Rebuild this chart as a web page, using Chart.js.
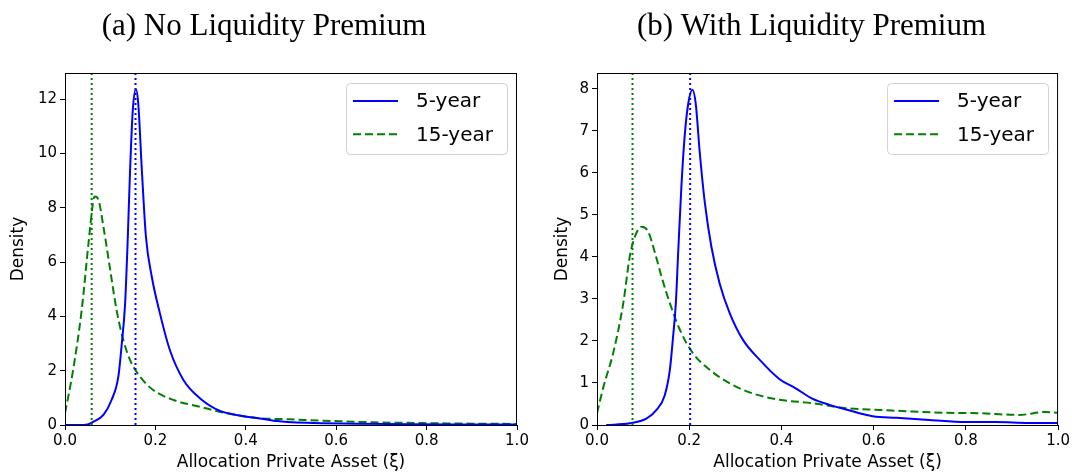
<!DOCTYPE html>
<html>
<head>
<meta charset="utf-8">
<script src="https://cdn.jsdelivr.net/npm/chart.js@4.4.0/dist/chart.umd.min.js"></script>
<style>
  body { margin: 0; background: #fff; }
  #wrap { position: relative; width: 1072px; height: 473px; }
  .panel { position: absolute; top: 0; width: 536px; height: 473px; }
</style>
</head>
<body>
<div id="wrap">
  <div class="panel" style="left:0"><canvas id="left" width="536" height="473"></canvas></div>
  <div class="panel" style="left:536px"><canvas id="right" width="536" height="473"></canvas></div>
</div>
<script>
// data
let seriesLabels = ['5-year', '15-year']
let xTicks = [0, 0.2, 0.4, 0.6, 0.8, 1.0]

// (a) no liquidity premium
let a5x = [0, 0.03, 0.05, 0.063, 0.085, 0.103, 0.118, 0.125, 0.133, 0.139, 0.144, 0.150, 0.157, 0.162, 0.170, 0.179, 0.192, 0.210, 0.232, 0.262, 0.299, 0.343, 0.387, 0.431, 0.461, 0.535, 0.645, 0.76, 0.88, 1.0]
let a5y = [0, 0, 0.02, 0.12, 0.37, 0.92, 1.78, 2.88, 4.48, 6.94, 9.39, 11.6, 12.36, 11.85, 9.39, 6.94, 5.46, 4.11, 2.76, 1.66, 0.98, 0.52, 0.35, 0.24, 0.16, 0.08, 0.05, 0.03, 0.02, 0.02]
let a15x = [0, 0.018, 0.037, 0.052, 0.063, 0.066, 0.074, 0.085, 0.100, 0.114, 0.129, 0.144, 0.166, 0.195, 0.240, 0.299, 0.358, 0.424, 0.498, 0.571, 0.682, 0.793, 0.9, 1.0]
let a15y = [0.43, 2.03, 4.24, 6.69, 8.29, 8.41, 8.29, 7.3, 5.71, 4.24, 3.13, 2.39, 1.78, 1.29, 0.92, 0.67, 0.43, 0.26, 0.21, 0.16, 0.10, 0.07, 0.05, 0.04]
let aMode = [0.156, 0.059]   // dotted lines: 5-year, 15-year
let aYMax = 12.96
let aYTicks = [0, 2, 4, 6, 8, 10, 12]

// (b) with liquidity premium
let b5x = [0.02, 0.071, 0.108, 0.129, 0.147, 0.158, 0.165, 0.171, 0.176, 0.183, 0.190, 0.198, 0.207, 0.214, 0.223, 0.234, 0.248, 0.266, 0.288, 0.317, 0.353, 0.396, 0.43, 0.468, 0.504, 0.540, 0.598, 0.649, 0.721, 0.80, 0.865, 0.937, 1.0]
let b5y = [0, 0.04, 0.16, 0.36, 0.71, 1.31, 2.10, 2.90, 4.09, 5.67, 6.86, 7.66, 7.98, 7.66, 6.47, 5.28, 4.25, 3.37, 2.66, 2.02, 1.55, 1.09, 0.88, 0.62, 0.48, 0.37, 0.21, 0.17, 0.12, 0.07, 0.07, 0.05, 0.05]
let b15x = [0, 0.014, 0.035, 0.057, 0.071, 0.082, 0.097, 0.111, 0.126, 0.140, 0.158, 0.180, 0.208, 0.245, 0.288, 0.338, 0.396, 0.468, 0.54, 0.613, 0.685, 0.757, 0.829, 0.915, 0.973, 1.0]
let b15y = [0.28, 0.91, 1.71, 2.90, 4.01, 4.48, 4.72, 4.60, 4.09, 3.53, 2.90, 2.26, 1.71, 1.31, 0.99, 0.75, 0.60, 0.52, 0.40, 0.36, 0.32, 0.29, 0.28, 0.24, 0.31, 0.29]
let bMode = [0.202, 0.077]
let bYMax = 8.38
let bYTicks = [0, 1, 2, 3, 4, 5, 6, 7, 8]

let blue = '#0000ff'
let green = '#008000'
let sans = 'DejaVu Sans'

function pts(xs, ys) {
    return xs.map(function (x, i) { return { x: x, y: ys[i] } })
}

// full box around the plot like matplotlib spines
let frame = {
    id: 'frame',
    afterDatasetsDraw(chart) {
        let a = chart.chartArea, ctx = chart.ctx
        ctx.save()
        ctx.strokeStyle = '#000'
        ctx.lineWidth = 1
        ctx.strokeRect(a.left + 0.5, a.top + 0.5, a.right - a.left - 1, a.bottom - a.top)
        ctx.restore()
    }
}

// legend inside the upper right corner
let boxLegend = {
    id: 'boxLegend',
    afterDraw(chart) {
        let ctx = chart.ctx, a = chart.chartArea
        let items = chart.data.datasets.filter(function (d) { return d.label })
        let w = 161, h = 71
        let x = a.right - 10 - w, y = a.top + 10
        ctx.save()
        ctx.beginPath()
        ctx.roundRect(x + 0.5, y + 0.5, w, h, 4)
        ctx.fillStyle = 'rgba(255,255,255,0.8)'
        ctx.fill()
        ctx.strokeStyle = '#d0d0d0'
        ctx.lineWidth = 1
        ctx.stroke()
        ctx.font = '20px ' + sans
        ctx.textBaseline = 'middle'
        items.forEach(function (d, i) {
            let ly = y + 18 + i * 33.3
            ctx.setLineDash(d.borderDash || [])
            ctx.strokeStyle = d.borderColor
            ctx.lineWidth = 2
            ctx.beginPath()
            ctx.moveTo(x + 7, ly)
            ctx.lineTo(x + 52, ly)
            ctx.stroke()
            ctx.setLineDash([])
            ctx.fillStyle = '#000'
            ctx.fillText(d.label, x + 70, ly + 1)
        })
        ctx.restore()
    }
}

// padLeft shifts the centred title; axisW + padLeft is the plot's left edge
function makePanel(id, title, x5, y5, x15, y15, mode, yMax, yTicks, padLeft, axisW, yTitlePad, padRight) {
    let ctx = document.getElementById(id).getContext('2d')
    return new Chart(ctx, {
        type: 'line',
        data: {
            datasets: [
                { data: [{ x: mode[0], y: 0 }, { x: mode[0], y: yMax }], borderColor: blue, borderWidth: 2, borderDash: [2, 3], pointRadius: 0 },
                { data: [{ x: mode[1], y: 0 }, { x: mode[1], y: yMax }], borderColor: green, borderWidth: 2, borderDash: [2, 3], pointRadius: 0 },
                { label: seriesLabels[0], data: pts(x5, y5), borderColor: blue, borderWidth: 2, pointRadius: 0, cubicInterpolationMode: 'monotone' },
                { label: seriesLabels[1], data: pts(x15, y15), borderColor: green, borderWidth: 2, borderDash: [8, 4], pointRadius: 0, cubicInterpolationMode: 'monotone' }
            ]
        },
        options: {
            responsive: false,
            animation: false,
            layout: { padding: { left: padLeft, right: padRight, top: 0, bottom: 0 } },
            plugins: {
                legend: { display: false },
                tooltip: { enabled: false },
                title: {
                    display: true,
                    text: title,
                    color: '#000',
                    font: { family: 'Liberation Serif', size: 31, weight: 'normal', lineHeight: 1.2 },
                    padding: { top: 8.4, bottom: 27.4 }
                }
            },
            scales: {
                x: {
                    type: 'linear',
                    min: 0,
                    max: 1,
                    afterBuildTicks: function (s) { s.ticks = xTicks.map(function (v) { return { value: v } }) },
                    afterFit: function (s) { s.height = 48 },
                    grid: { drawOnChartArea: false, tickLength: 5, tickColor: '#000' },
                    border: { display: true, color: '#000' },
                    ticks: {
                        color: '#000', font: { family: sans, size: 15 }, padding: 2, maxRotation: 0, autoSkip: false,
                        callback: function (v) { return v.toFixed(1) }
                    },
                    title: {
                        display: true, text: 'Allocation Private Asset (ξ)', color: '#000',
                        font: { family: sans, size: 17, lineHeight: 1.2 }, padding: { top: 0, bottom: 0 }
                    }
                },
                y: {
                    min: 0,
                    max: yMax,
                    afterBuildTicks: function (s) { s.ticks = yTicks.map(function (v) { return { value: v } }) },
                    afterFit: function (s) { s.width = axisW },
                    grid: { drawOnChartArea: false, tickLength: 5, tickColor: '#000' },
                    border: { display: true, color: '#000' },
                    ticks: { color: '#000', font: { family: sans, size: 15 }, padding: 3 },
                    title: {
                        display: true, text: 'Density', color: '#000',
                        font: { family: sans, size: 17, lineHeight: 1.2 }, padding: { top: yTitlePad, bottom: 0 }
                    }
                }
            }
        },
        plugins: [frame, boxLegend]
    })
}

makePanel('left', '(a) No Liquidity Premium', a5x, a5y, a15x, a15y, aMode, aYMax, aYTicks, 11, 54, -2.2, 19)
makePanel('right', '(b) With Liquidity Premium', b5x, b5y, b15x, b15y, bMode, bYMax, bYTicks, 28, 33, -12, 13)
</script>
</body>
</html>
